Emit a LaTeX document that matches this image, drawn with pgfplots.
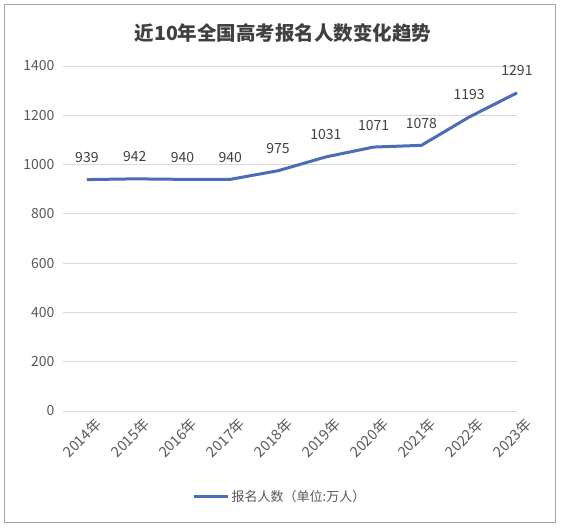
\documentclass[border=0pt]{standalone}
\usepackage{fontspec}
\setmainfont{Noto Sans CJK SC}
\usepackage{pgfplots}
\pgfplotsset{compat=1.18}
\definecolor{lineblue}{HTML}{4A6DB8}
\definecolor{txtgray}{HTML}{595959}
\definecolor{titlegray}{HTML}{404040}
\definecolor{gridgray}{HTML}{D9D9D9}
\definecolor{framegray}{HTML}{A6A6A6}

\pgfplotstableread{
x y
0 939
1 942
2 940
3 940
4 975
5 1031
6 1071
7 1078
8 1193
9 1291
}\gaokao

\begin{document}
\begin{tikzpicture}[x=1pt,y=1pt]
  \fill[white] (-63,-118) rectangle (502,411);
  \draw[framegray, line width=1pt] (-58.5,-111.5) rectangle (492.5,406.5);
  \node[font=\fontsize{19.5}{19.5}\selectfont\bfseries, text=titlegray] at (220,378)
    {近10年全国高考报名人数变化趋势};
  \begin{axis}[
      at={(0,0)}, anchor=south west,
      scale only axis, width=454pt, height=345pt,
      xmin=-0.5, xmax=9, ymin=0, ymax=1400,
      ytick={0,200,...,1400},
      xtick={0,...,9},
      xticklabels={2014年,2015年,2016年,2017年,2018年,2019年,2020年,2021年,2022年,2023年},
      axis line style={draw=none},
      tick style={draw=none},
      ymajorgrids,
      grid style={gridgray, line width=0.8pt},
      /pgf/number format/assume math mode=true,
      /pgf/number format/1000 sep={},
      yticklabel style={font=\fontsize{14}{14}\selectfont, text=txtgray, xshift=-5pt},
      xticklabel style={rotate=45, anchor=north east, font=\fontsize{14.5}{14.5}\selectfont,
        text=txtgray, yshift=-8pt, xshift=2pt, inner sep=1pt},
      clip=false,
      legend style={at={(0.478,-0.249)}, anchor=center, draw=none, fill=none,
        font=\fontsize{13}{13}\selectfont, text=txtgray},
      legend image code/.code={\draw[lineblue, line width=3pt] (0pt,0pt) -- (34pt,0pt);},
    ]
    \addplot[lineblue, line width=3pt, line join=round,
      nodes near coords, point meta=explicit symbolic,
      nodes near coords style={anchor=center, yshift=22pt,
        font=\fontsize{14}{14}\selectfont, text=titlegray}]
      table[x=x, y=y, meta=y] {\gaokao};
    \addlegendentry{报名人数（单位:万人）}
  \end{axis}
\end{tikzpicture}
\end{document}
